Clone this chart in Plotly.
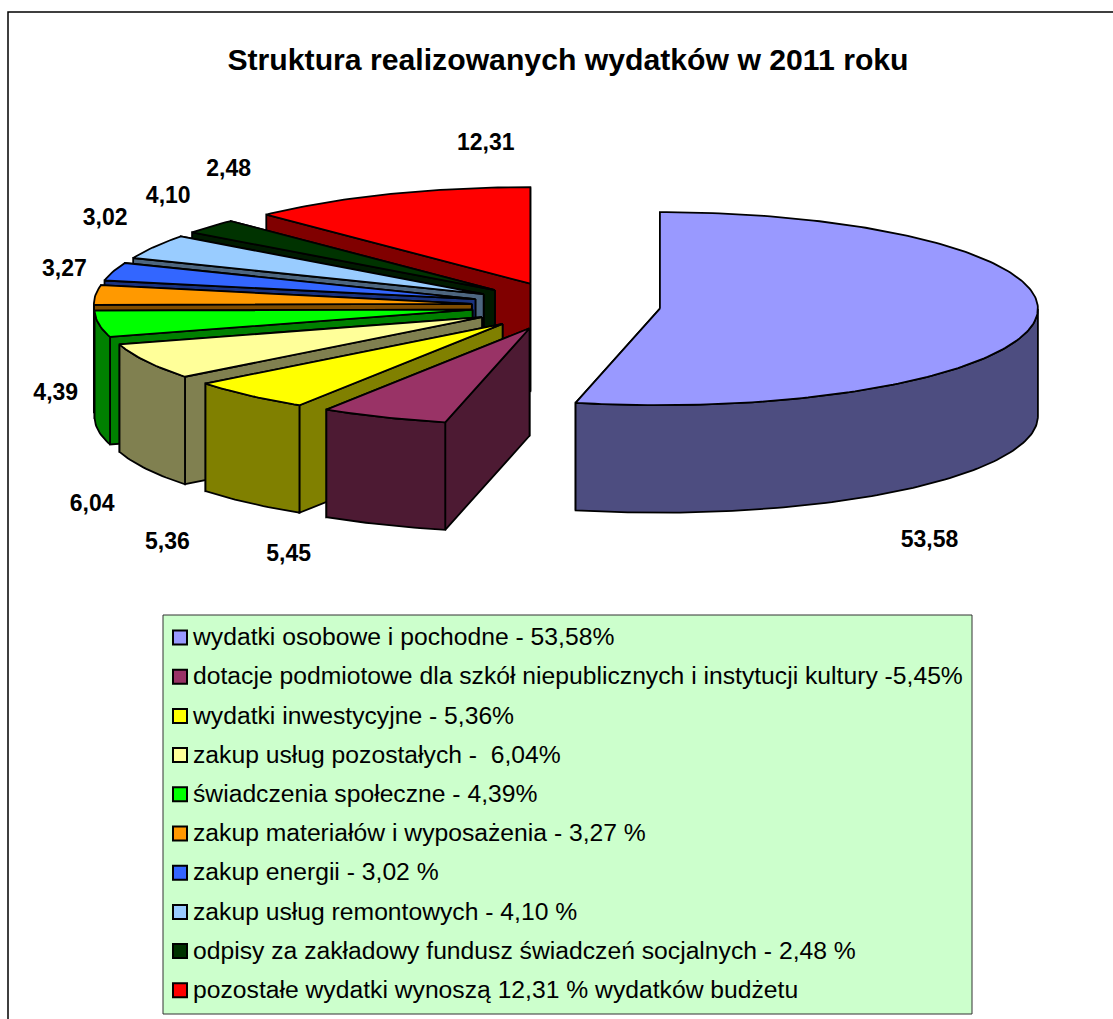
import math
import plotly.graph_objects as go

# ---- data ----
categories = [
    "wydatki osobowe i pochodne",
    "dotacje podmiotowe dla szkół niepublicznych i instytucji kultury",
    "wydatki inwestycyjne",
    "zakup usług pozostałych",
    "świadczenia społeczne",
    "zakup materiałów i wyposażenia",
    "zakup energii",
    "zakup usług remontowych",
    "odpisy za zakładowy fundusz świadczeń socjalnych",
    "pozostałe wydatki",
]
values = [53.58, 5.45, 5.36, 6.04, 4.39, 3.27, 3.02, 4.10, 2.48, 12.31]
legend_labels = [
    "wydatki osobowe i pochodne - 53,58%",
    "dotacje podmiotowe dla szkół niepublicznych i instytucji kultury -5,45%",
    "wydatki inwestycyjne - 5,36%",
    "zakup usług pozostałych - \u00a06,04%",
    "świadczenia społeczne - 4,39%",
    "zakup materiałów i wyposażenia - 3,27 %",
    "zakup energii - 3,02 %",
    "zakup usług remontowych - 4,10 %",
    "odpisy za zakładowy fundusz świadczeń socjalnych - 2,48 %",
    "pozostałe wydatki wynoszą 12,31 % wydatków budżetu",
]
title_text = "Struktura realizowanych wydatków w 2011 roku"

# ---- styles ----
top_colors = ["#9999FF", "#993366", "#FFFF00", "#FFFF99", "#00FF00",
              "#FF9900", "#3366FF", "#99CCFF", "#003300", "#FF0000"]
side_colors = ["#4D4D80", "#4D1A33", "#808000", "#808050", "#008000",
               "#804D00", "#1A3380", "#4D6680", "#001A00", "#800000"]

# ---- layout of the projected pie ----
W, H = 1113, 1019
CX, CY = 566.0, 306.0      # pie centre before explosion
RX, RY = 378.0, 96.5       # ellipse semi-axes
EXPLODE = 0.25             # explosion as a fraction of the radius
DEPTH = 107.5              # wall height
LABEL_OFFSETS = [(-106, 222), (-95, 138), (-81.5, 148), (-54, 144), (-43, 70),
                 (-31, -25), (-8, -52), (14, -50), (18, -56), (98, -50)]
FONT = "Liberation Sans, Arial, sans-serif"
LINE = 1.8


def rim(cx, cy, deg):
    r = math.radians(deg)
    return cx + RX * math.sin(r), cy - RY * math.cos(r)


def arc(cx, cy, t0, t1):
    n = max(2, int(abs(t1 - t0)) + 2)
    return [rim(cx, cy, t0 + (t1 - t0) * i / (n - 1)) for i in range(n)]


fig = go.Figure()


def poly(points, fill, name):
    xs = [p[0] for p in points] + [points[0][0]]
    ys = [p[1] for p in points] + [points[0][1]]
    fig.add_trace(go.Scatter(x=xs, y=ys, mode="lines", fill="toself", fillcolor=fill,
                             line=dict(color="black", width=LINE), name=name,
                             hoverinfo="name", showlegend=False))


total = sum(values)
starts, acc = [], 0.0
for v in values:
    starts.append(acc / total * 360.0)
    acc += v
ends = starts[1:] + [360.0]


def down(p):
    return (p[0], p[1] + DEPTH)


# painter's order: the big slice, then the rest from the back to the front
for i in [0] + list(range(len(values) - 1, 0, -1)):
    t0, t1 = starts[i], ends[i]
    mid = math.radians((t0 + t1) / 2)
    ax = CX + EXPLODE * RX * math.sin(mid)
    ay = CY - EXPLODE * RY * math.cos(mid)
    side, top = side_colors[i], top_colors[i]
    apex = (ax, ay)
    p0, p1 = rim(ax, ay, t0), rim(ax, ay, t1)
    poly([apex, p1, down(p1), down(apex)], side, categories[i])
    poly([apex, p0, down(p0), down(apex)], side, categories[i])
    w0, w1 = max(t0, 90.0), min(t1, 270.0)
    if w1 > w0:
        outer = arc(ax, ay, w0, w1)
        poly(outer + [down(p) for p in reversed(outer)], side, categories[i])
    poly([apex] + arc(ax, ay, t0, t1), top, categories[i])

# data labels, placed relative to each slice's outer mid point
lab_x, lab_y, lab_t = [], [], []
for i, v in enumerate(values):
    m = math.radians((starts[i] + ends[i]) / 2)
    mx = CX + (1 + EXPLODE) * RX * math.sin(m)
    my = CY - (1 + EXPLODE) * RY * math.cos(m)
    lab_x.append(mx + LABEL_OFFSETS[i][0])
    lab_y.append(my + LABEL_OFFSETS[i][1])
    lab_t.append("<b>" + f"{v:.2f}".replace(".", ",") + "</b>")
fig.add_trace(go.Scatter(x=lab_x, y=lab_y, text=lab_t, mode="text", textposition="middle center",
                         textfont=dict(family=FONT, size=23, color="black"),
                         hoverinfo="skip", showlegend=False))

# legend block
LEG_X0, LEG_Y0, LEG_X1, LEG_Y1 = 163, 615, 972, 1014
ROW0, ROW_STEP = 639.0, 39.2
SWATCH_ROW0 = 637.5
rows = [ROW0 + ROW_STEP * i for i in range(len(values))]
swatch_rows = [SWATCH_ROW0 + ROW_STEP * i for i in range(len(values))]
fig.add_trace(go.Scatter(x=[180] * len(values), y=swatch_rows, mode="markers",
                         marker=dict(symbol="square", size=14, color=top_colors,
                                     line=dict(color="black", width=2)),
                         hovertext=categories, hoverinfo="text", showlegend=False))
fig.add_trace(go.Scatter(x=[193] * len(values), y=rows, text=legend_labels, mode="text",
                         textposition="middle right",
                         textfont=dict(family=FONT, size=24.7, color="black"),
                         hoverinfo="skip", showlegend=False))

fig.update_layout(
    width=W, height=H, autosize=False,
    margin=dict(l=0, r=0, t=0, b=0),
    paper_bgcolor="white", plot_bgcolor="white",
    xaxis=dict(range=[0, W], visible=False, fixedrange=True),
    yaxis=dict(range=[H, 0], visible=False, fixedrange=True),
    title=dict(text=f"<b>{title_text}</b>", x=568 / W, y=1 - 59.5 / H, xanchor="center", yanchor="middle",
               font=dict(family=FONT, size=30.2, color="black")),
    shapes=[
        dict(type="rect", xref="x", yref="y", x0=8, y0=12, x1=W + 10, y1=H + 10,
             line=dict(color="black", width=1.5), layer="below"),
        dict(type="rect", xref="x", yref="y", x0=LEG_X0, y0=LEG_Y0, x1=LEG_X1, y1=LEG_Y1,
             fillcolor="#CCFFCC", line=dict(color="#333333", width=1), layer="below"),
    ],
)

fig.write_html("out.html", config={"displayModeBar": False},
               post_script="document.body.style.margin='0';document.body.style.overflow='hidden';")
